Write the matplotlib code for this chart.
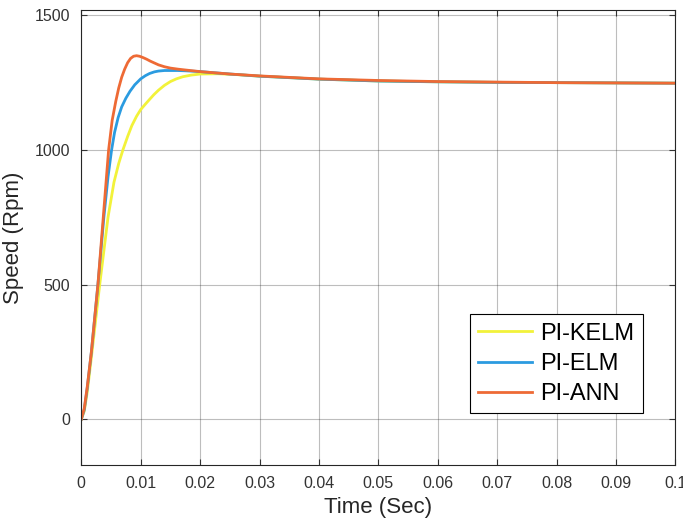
import matplotlib.pyplot as plt

# time (s) and speed (rpm)
t_kelm = [0, 0.0005, 0.001, 0.0017, 0.0024, 0.0031, 0.0038, 0.0045, 0.0055, 0.0063, 0.007,
          0.0078, 0.0085, 0.0093, 0.01, 0.0107, 0.0113, 0.0122, 0.013, 0.014, 0.015, 0.016,
          0.0171, 0.0185, 0.02, 0.023, 0.026, 0.03, 0.04, 0.05, 0.06, 0.07, 0.08, 0.09, 0.1]
kelm = [0, 30, 100, 230, 365, 500, 625, 750, 880, 950, 1000,
        1050, 1090, 1125, 1150, 1168, 1183, 1205, 1222, 1240, 1254, 1264,
        1272, 1278, 1282, 1283, 1280, 1274, 1263, 1256, 1253, 1251, 1250, 1249, 1248]

t_elm = [0, 0.0005, 0.001, 0.0017, 0.0028, 0.0038, 0.0045, 0.0051, 0.0056, 0.0062, 0.0068,
         0.0075, 0.0082, 0.009, 0.01, 0.0108, 0.0115, 0.0123, 0.013, 0.014, 0.015, 0.0162,
         0.0175, 0.02, 0.025, 0.03, 0.04, 0.05, 0.06, 0.07, 0.08, 0.09, 0.1]
elm = [0, 35, 115, 250, 500, 750, 900, 1000, 1065, 1120, 1160,
       1192, 1218, 1242, 1264, 1276, 1284, 1290, 1293, 1295, 1295, 1295,
       1294, 1291, 1282, 1274, 1263, 1256, 1253, 1251, 1250, 1249, 1248]

t_ann = [0, 0.0005, 0.001, 0.0017, 0.0028, 0.0037, 0.0046, 0.0052, 0.0058, 0.0063, 0.0068,
         0.0073, 0.0078, 0.0083, 0.0088, 0.0093, 0.0098, 0.0104, 0.011, 0.0116, 0.0123, 0.013,
         0.014, 0.015, 0.0163, 0.0175, 0.02, 0.025, 0.03, 0.04, 0.05, 0.06, 0.07, 0.08,
         0.09, 0.1]
ann = [0, 40, 120, 250, 500, 750, 1000, 1110, 1180, 1230, 1270,
       1300, 1324, 1340, 1348, 1350, 1348, 1343, 1337, 1330, 1323, 1316,
       1309, 1304, 1300, 1297, 1291, 1282, 1275, 1264, 1258, 1254, 1252, 1250,
       1249, 1248]

labels = ['PI-KELM', 'PI-ELM', 'PI-ANN']
colors = ['#f2f23a', '#2b9be0', '#ee6a35']

plt.rcParams['font.family'] = ['Liberation Sans', 'DejaVu Sans']

fig = plt.figure(figsize=(6.83, 5.22), dpi=100)
ax = fig.add_axes([0.119, 0.109, 0.870, 0.872])

ax.plot(t_kelm, kelm, color=colors[0], lw=2, label=labels[0])
ax.plot(t_elm, elm, color=colors[1], lw=2, label=labels[1])
ax.plot(t_ann, ann, color=colors[2], lw=2, label=labels[2])

ax.set_xlim(0, 0.1)
ax.set_ylim(-170, 1520)
xt = [i / 100 for i in range(11)]
ax.set_xticks(xt)
ax.set_xticklabels(['0'] + ['%g' % v for v in xt[1:]])
ax.set_yticks([0, 500, 1000, 1500])

ax.grid(True, color='#262626', alpha=0.3, lw=0.8)
ax.tick_params(direction='in', top=True, right=True, labelsize=11.5,
               colors='#333333', length=4, pad=8)
for s in ax.spines.values():
    s.set_color('#262626')
    s.set_linewidth(0.8)

ax.set_xlabel('Time (Sec)', fontsize=16, color='#262626', labelpad=4)
ax.set_ylabel('Speed (Rpm)', fontsize=16, color='#262626', labelpad=8)

leg = ax.legend(loc='lower right', bbox_to_anchor=(0.945, 0.1136), borderaxespad=0,
                fontsize=17, fancybox=False, edgecolor='black', framealpha=1,
                handlelength=2.3, handletextpad=0.35, labelspacing=0.35, borderpad=0.35)
leg.get_frame().set_linewidth(0.8)

fig.savefig('out.png', dpi=100)
